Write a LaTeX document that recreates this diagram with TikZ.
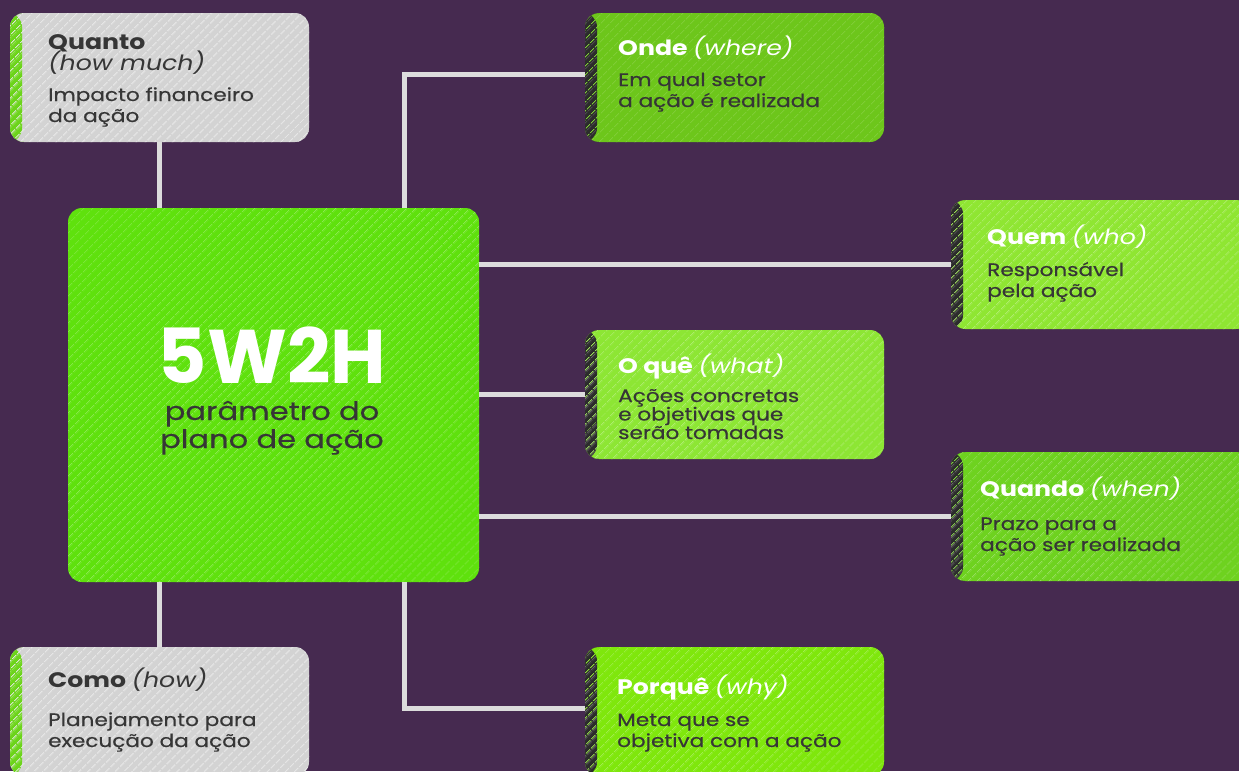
\documentclass[tikz,border=0pt]{standalone}
\usepackage{fontspec}
\setmainfont{Poppins}[FakeStretch=1.2, UprightFeatures={FakeBold=0.5}]
\newfontfamily\bigfont{Poppins}
\usetikzlibrary{patterns.meta}
\definecolor{bgpurple}{HTML}{462A50}
\definecolor{conncol}{HTML}{DCDCDC}
\definecolor{greyfill}{HTML}{D3D3D3}
\definecolor{stripgreen}{HTML}{6CD41A}
\definecolor{stripdark}{HTML}{2C2C2C}
\definecolor{centergreen}{HTML}{5FE10D}
\definecolor{ondegreen}{HTML}{6DC61B}
\definecolor{quemgreen}{HTML}{8FE632}
\definecolor{oquegreen}{HTML}{8DE634}
\definecolor{quandogreen}{HTML}{6ED21F}
\definecolor{porquegreen}{HTML}{7FE70C}
\definecolor{textdark}{HTML}{363636}
\tikzset{
  box/.style={rounded corners=14pt, minimum width=299pt, minimum height=129pt, inner sep=0pt, outer sep=0pt},
  hatch/.style={postaction={pattern={Lines[angle=45,distance=6.5pt,line width=1pt]}, pattern color=#1}},
  strip/.style={path picture={
    \fill[#1] (path picture bounding box.north west) rectangle ([xshift=12pt]path picture bounding box.south west);
    \fill[pattern={Lines[angle=45,distance=6.5pt,line width=1pt]}, pattern color=#1!85!white] (path picture bounding box.north west) rectangle ([xshift=12pt]path picture bounding box.south west);}},
  conn/.style={draw=conncol, line width=5pt},
  ttl/.style={anchor=base west, inner sep=0pt, font=\fontsize{21}{24}\selectfont\bfseries},
  txt/.style={anchor=base west, inner sep=0pt, align=left, text=textdark, font=\fontsize{18}{21}\selectfont},
  txtb/.style={txt, font=\fontsize{18}{18.5}\selectfont},
}
\begin{document}
\begin{tikzpicture}[x=1pt,y=-1pt]
\fill[bgpurple] (0,0) rectangle (1239,771);
\useasboundingbox (0,0) rectangle (1239,771);
\clip (0,0) rectangle (1239,771);

% boxes
\node[box, minimum width=411pt, minimum height=374pt, fill=centergreen, hatch=centergreen!88!white] (center) at (273.5,395) {};
\node[box, fill=greyfill, strip=stripgreen, hatch=greyfill!55!white] (quanto) at (159.5,77.5) {};
\node[box, fill=ondegreen, strip=stripdark, hatch=ondegreen!88!white] (onde) at (734.5,77.5) {};
\node[box, fill=quemgreen, strip=stripdark, hatch=quemgreen!85!white] (quem) at (1100.5,264.5) {};
\node[box, fill=oquegreen, strip=stripdark, hatch=oquegreen!85!white] (oque) at (734.5,394.5) {};
\node[box, fill=quandogreen, strip=stripdark, hatch=quandogreen!88!white] (quando) at (1100.5,516.5) {};
\node[box, fill=porquegreen, strip=stripdark, hatch=porquegreen!88!white] (porque) at (734.5,711.5) {};
\node[box, fill=greyfill, strip=stripgreen, hatch=greyfill!55!white] (como) at (159.5,711.5) {};

% connectors
\draw[conn] (quanto.south) -- (quanto.south |- center.north);
\draw[conn] ([xshift=130.5pt]center.north) |- ([yshift=3.5pt]onde.west);
\draw[conn] (center.east |- quem.west) -- (quem.west);
\draw[conn] (center.east |- oque.west) -- (oque.west);
\draw[conn] (center.east |- quando.west) -- (quando.west);
\draw[conn] ([xshift=130.5pt]center.south) |- ([yshift=3.5pt]porque.west);
\draw[conn] (como.north) -- (como.north |- center.south);

% center text
\node[anchor=base, inner sep=0pt, text=white, font=\bigfont\fontsize{76}{76}\selectfont\bfseries] (big) at (272,383) {5W2H};
\node[anchor=base, inner sep=0pt, text=textdark, align=center, font=\fontsize{25.5}{28}\selectfont] (sub) at (272,448) {parâmetro do\\plano de ação};

% Quanto
\node[ttl, text=textdark] (t1) at (48,49) {Quanto};
\node[ttl, text=textdark, font=\fontsize{21}{24}\selectfont\itshape] (t1b) at (48,70) {(how much)};
\node[txt] (b1) at (48,122) {Impacto financeiro\\da ação};
% Onde
\node[ttl, text=white] (t2) at (618,55) {Onde \textit{\mdseries(where)}};
\node[txt] (b2) at (618,107) {Em qual setor\\a ação é realizada};
% Quem
\node[ttl, text=white] (t3) at (987,244) {Quem \textit{\mdseries(who)}};
\node[txt] (b3) at (987,297) {Responsável\\pela ação};
% O que
\node[ttl, text=white] (t4) at (618,373) {O quê \textit{\mdseries(what)}};
\node[txtb] (b4) at (618,439) {Ações concretas\\e objetivas que\\serão tomadas};
% Quando
\node[ttl, text=white] (t5) at (980,496) {Quando \textit{\mdseries(when)}};
\node[txt] (b5) at (980,551) {Prazo para a\\ação ser realizada};
% Como
\node[ttl, text=textdark] (t6) at (48,687) {Como \textit{\mdseries(how)}};
\node[txt] (b6) at (48,747) {Planejamento para\\execução da ação};
% Porque
\node[ttl, text=white] (t7) at (617,694) {Porquê \textit{\mdseries(why)}};
\node[txt] (b7) at (617,747) {Meta que se\\objetiva com a ação};
\end{tikzpicture}
\end{document}
